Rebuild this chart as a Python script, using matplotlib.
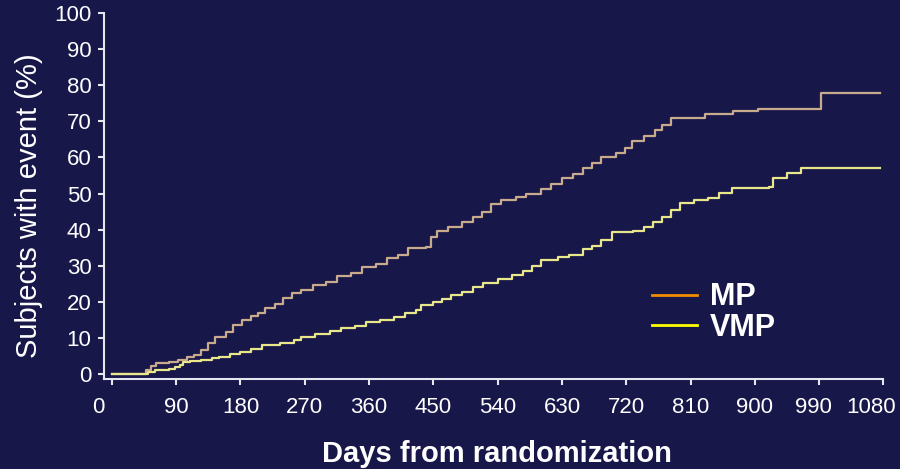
import matplotlib.pyplot as plt
from matplotlib.lines import Line2D
from matplotlib.transforms import ScaledTranslation

plt.rcParams['font.family'] = ['Liberation Sans', 'DejaVu Sans']

# Cumulative event curves (days, % of subjects)
mp_days = [0, 43, 48, 55, 62, 80, 92, 105, 115, 125, 135, 145, 160, 170, 182, 195,
           205, 215, 228, 240, 252, 265, 282, 300, 315, 335, 350, 370, 385, 400, 415,
           440, 446, 455, 470, 490, 505, 518, 530, 545, 565, 580, 600, 615, 630, 645,
           660, 672, 685, 705, 718, 728, 745, 760, 770, 782, 830, 870, 905, 992, 1075]
mp_pct = [0, 0, 1.0, 2.2, 3.0, 3.2, 3.9, 4.6, 5.3, 6.5, 8.6, 10.2, 11.6, 13.5, 15.0, 16.0,
          17.0, 18.2, 19.5, 21.0, 22.5, 23.3, 24.6, 25.5, 27.0, 28.0, 29.7, 30.5, 32.0, 33.0, 34.8,
          35.2, 38.0, 39.5, 40.7, 42.1, 43.5, 45.0, 47.0, 48.2, 49.0, 50.0, 51.2, 52.5, 54.3, 55.5,
          57.0, 58.5, 60.0, 61.2, 62.5, 64.5, 66.0, 67.5, 69.0, 71.0, 72.0, 73.0, 73.5, 78.0, 78.0]

vmp_days = [0, 45, 50, 60, 80, 88, 95, 100, 110, 125, 140, 150, 165, 180, 195, 210,
            235, 255, 265, 285, 305, 320, 340, 355, 375, 395, 410, 425, 432, 450, 462,
            475, 490, 505, 520, 540, 560, 575, 588, 600, 625, 640, 660, 672, 685, 700,
            730, 745, 758, 770, 782, 795, 815, 835, 850, 868, 920, 925, 945, 965, 1075]
vmp_pct = [0, 0, 0.5, 1.0, 1.3, 1.8, 2.5, 3.3, 3.7, 3.9, 4.4, 4.8, 5.5, 6.1, 7.0, 8.0,
           8.6, 9.5, 10.3, 11.0, 12.0, 12.7, 13.3, 14.4, 15.0, 15.8, 16.8, 17.7, 19.1, 20.0, 20.8,
           22.0, 22.8, 24.0, 25.2, 26.3, 27.5, 28.5, 30.0, 31.6, 32.3, 33.0, 34.5, 35.5, 37.1, 39.3,
           39.6, 40.7, 42.0, 43.5, 45.5, 47.4, 48.2, 48.8, 50.1, 51.5, 51.8, 54.2, 55.7, 57.0, 57.0]

x_ticks = list(range(0, 1081, 90))
y_ticks = list(range(0, 101, 10))

bg = '#18174a'
axis_col = '#e6e6ee'

fig = plt.figure(figsize=(9, 4.69), dpi=100, facecolor=bg)
ax = fig.add_axes([0.1156, 0.192, 0.866, 0.780], facecolor=bg)

ax.plot(mp_days, mp_pct, drawstyle='steps-post', color='#c8aa8c', lw=1.6)
ax.plot(vmp_days, vmp_pct, drawstyle='steps-post', color='#e8e88a', lw=1.6)

ax.set_xlim(-11, 1080)
ax.set_ylim(-1.4, 100)
ax.set_xticks(x_ticks)
ax.set_yticks(y_ticks)

for side in ['top', 'right']:
    ax.spines[side].set_visible(False)
for side in ['left', 'bottom']:
    ax.spines[side].set_color(axis_col)
    ax.spines[side].set_linewidth(1.5)

ax.tick_params(axis='both', colors=axis_col, labelcolor='white', labelsize=16,
               width=1.5, length=4, direction='out')
ax.tick_params(axis='x', pad=9)
ax.tick_params(axis='y', pad=5)

# a few x labels sit left of their ticks in the original
shifts = {0: -14, 990: -6, 1080: -12}
for tick, lab in zip(x_ticks, ax.get_xticklabels()):
    if tick in shifts:
        lab.set_transform(lab.get_transform() +
                          ScaledTranslation(shifts[tick] / 100, 0, fig.dpi_scale_trans))

ax.set_ylabel('Subjects with event (%)', color='white', fontsize=21, labelpad=8)
ax.yaxis.label.set_y(0.473)
ax.set_xlabel('Days from randomization', color='white', fontsize=21,
              fontweight='bold', labelpad=16)
ax.xaxis.label.set_x(0.504)

handles = [Line2D([], [], color='#f08c00', lw=2),
           Line2D([], [], color='#ffff00', lw=2)]
leg = ax.legend(handles, ['MP', 'VMP'], loc='upper left', bbox_to_anchor=(0.683, 0.306),
                frameon=False, borderpad=0, handlelength=1.5, handletextpad=0.4,
                labelspacing=0.02, prop={'size': 22, 'weight': 'bold'})
for t in leg.get_texts():
    t.set_color('white')

fig.savefig('out.png', dpi=100, facecolor=bg)
